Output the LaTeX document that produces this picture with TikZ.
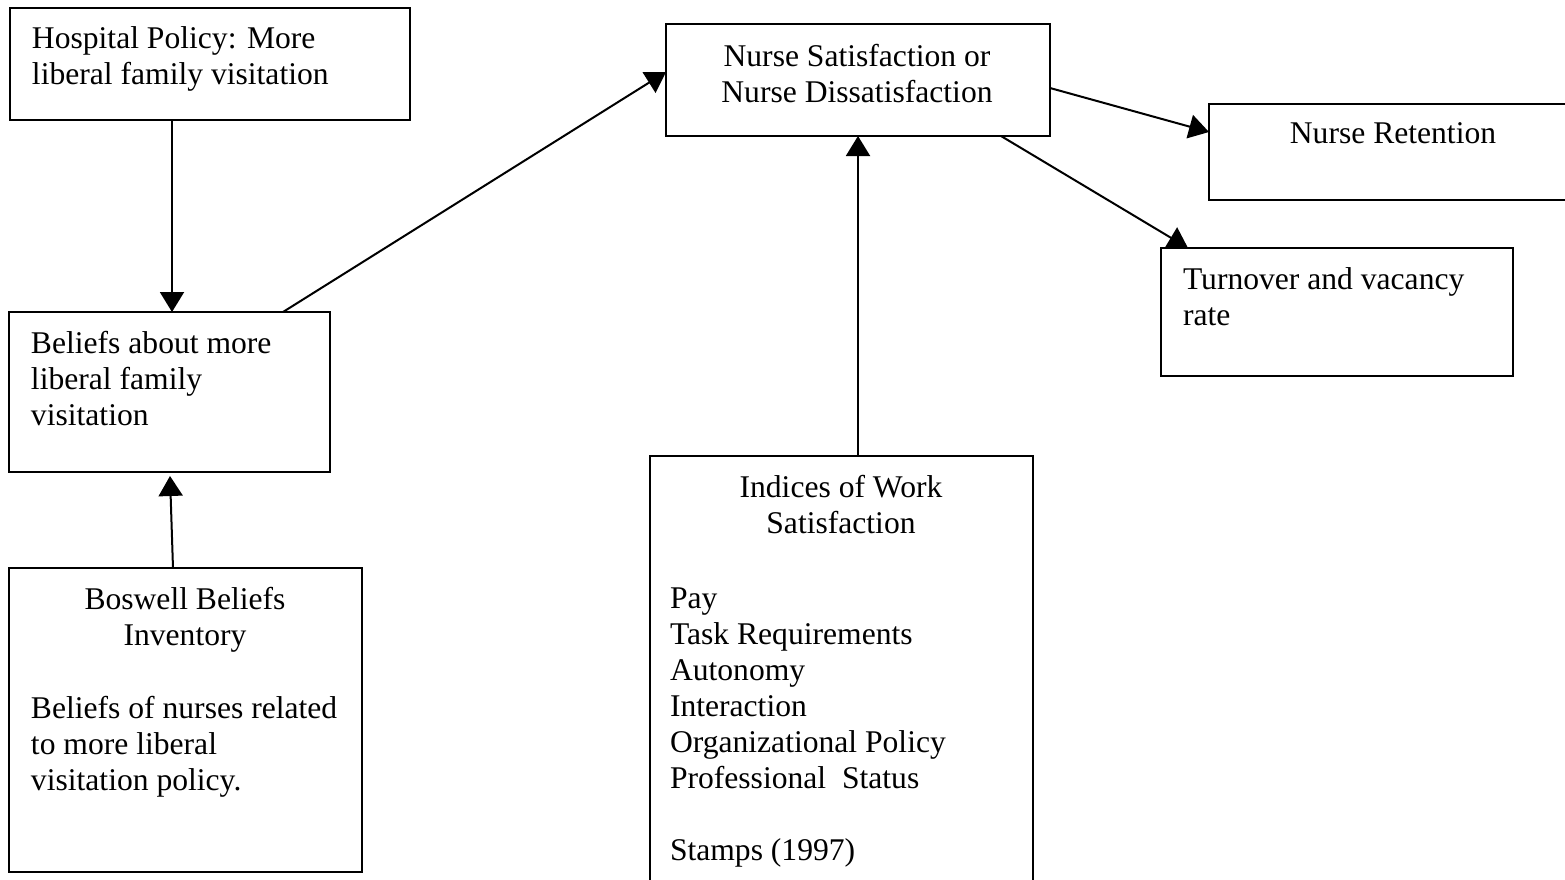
\documentclass[tikz,border=0pt]{standalone}
\usepackage{fontspec}
\setmainfont{Liberation Serif}
\usetikzlibrary{arrows.meta,calc}
\begin{document}
\begin{tikzpicture}[x=0.5pt,y=-0.5pt,
  box/.style={draw,line width=1pt,rectangle,inner sep=0pt,outer sep=0pt,anchor=north west},
  txt/.style={inner sep=0pt,outer sep=0pt,font=\fontsize{15.8}{18}\selectfont},
  arr/.style={line width=1pt,-{Triangle[length=10pt,width=12pt]}}]
\useasboundingbox (0,0) rectangle (1565,879);
% boxes
\node[box,minimum width=200pt,minimum height=56pt] (policy) at (10,8) {};
\node[box,minimum width=160.5pt,minimum height=80pt] (beliefs) at (9,312) {};
\node[box,minimum width=176.5pt,minimum height=152pt] (boswell) at (9,568) {};
\node[box,minimum width=192pt,minimum height=56pt] (sat) at (666,24) {};
\node[box,minimum width=180pt,minimum height=48pt] (retention) at (1209,104) {};
\node[box,minimum width=176pt,minimum height=64pt] (turnover) at (1161,248) {};
\node[box,minimum width=191.5pt,minimum height=230pt] (indices) at (650,456) {};
% texts (base anchor = baseline of last line)
\node[txt,anchor=base west,align=left] (t1) at (32,84) {Hospital Policy: More\\liberal family visitation};
\node[txt,anchor=base west,align=left] (t2) at (31,425) {Beliefs about more\\liberal family\\visitation};
\node[txt,anchor=base,align=center] (t3a) at (185,645) {Boswell Beliefs\\Inventory};
\node[txt,anchor=base west,align=left] (t3b) at (31,790) {Beliefs of nurses related\\to more liberal\\visitation policy.};
\node[txt,anchor=base,align=center] (t4) at (857,102) {Nurse Satisfaction or\\Nurse Dissatisfaction};
\node[txt,anchor=base] (t5) at (1393,143) {Nurse Retention};
\node[txt,anchor=base west,align=left] (t6) at (1183,325) {Turnover and vacancy\\rate};
\node[txt,anchor=base,align=center] (t7a) at (841,533) {Indices of Work\\Satisfaction};
\node[txt,anchor=base west,align=left] (t7b) at (670,860) {Pay\\Task Requirements\\Autonomy\\Interaction\\Organizational Policy\\Professional\ \ Status\\[18pt]Stamps (1997)};
% connectors
\draw[arr] (172,0 |- policy.south) -- (172,0 |- beliefs.north);
\draw[arr] (173,0 |- boswell.north) -- ($(170,0 |- beliefs.south)+(0,4)$);
\draw[arr] (283,0 |- beliefs.north) -- (0,72 -| sat.west);
\draw[arr] (858,0 |- indices.north) -- (858,0 |- sat.south);
\draw[arr] (0,88 -| sat.east) -- (0,132 -| retention.west);
\draw[arr] (1001,0 |- sat.south) -- (1188,0 |- turnover.north);
\end{tikzpicture}
\end{document}
